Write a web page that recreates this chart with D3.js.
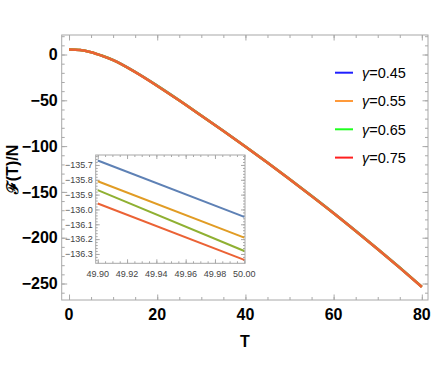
<!DOCTYPE html>
<html>
<head>
<meta charset="utf-8">
<script src="https://cdn.jsdelivr.net/npm/d3@7"></script>
<style>
  body { margin: 0; background: #fff; }
  svg { display: block; }
  .lbl { font-family: "Liberation Sans Narrow", "Liberation Sans", Arial, sans-serif; font-weight: bold; }
</style>
</head>
<body>
<div id="chartContainer"></div>
<script>
// Main curve, sampled along T
const temps = [0, 2.5, 5, 7.5, 10, 15, 20, 25, 30, 35, 40, 45, 50, 55, 60, 65, 70, 75, 80];
const free45 = [5.6, 5.0, 2.6, -1.3, -6.0, -19.0, -34.0, -50.0, -66.6, -83.3, -100.4, -117.9, -135.9, -154.3, -173.1, -192.5, -212.3, -232.6, -253.5];
const free55 = [5.5, 4.9, 2.5, -1.4, -6.1, -19.1, -34.1, -50.1, -66.7, -83.4, -100.5, -118.0, -136.0, -154.4, -173.2, -192.6, -212.4, -232.7, -253.6];
const free65 = [5.5, 4.9, 2.5, -1.4, -6.1, -19.1, -34.2, -50.2, -66.8, -83.5, -100.6, -118.1, -136.1, -154.5, -173.3, -192.7, -212.5, -232.8, -253.7];
const free75 = [5.4, 4.8, 2.4, -1.5, -6.2, -19.2, -34.3, -50.3, -66.9, -83.6, -100.7, -118.2, -136.2, -154.6, -173.4, -192.8, -212.6, -232.9, -253.8];

// Zoomed window near T = 50
const insetTemps = [49.90, 50.00];
const inset45 = [-135.67, -136.05];
const inset55 = [-135.81, -136.19];
const inset65 = [-135.87, -136.28];
const inset75 = [-135.96, -136.34];

const gammas = ["0.45", "0.55", "0.65", "0.75"];
const xTicks = [0, 20, 40, 60, 80];
const yTicks = [0, -50, -100, -150, -200, -250];
const insetXTicks = [49.90, 49.92, 49.94, 49.96, 49.98, 50.00];
const insetYTicks = [-135.7, -135.8, -135.9, -136.0, -136.1, -136.2, -136.3];

const plotColors = ["#5e81b5", "#e19c24", "#8fb032", "#eb6235"];
const legendColors = ["#1f1fff", "#ff9a3a", "#1fff1f", "#ff1f1f"];
const frameColor = "#a8a8a8";

const width = 436, height = 382;
const svg = d3.select("#chartContainer").append("svg")
  .attr("width", width)
  .attr("height", height);

svg.append("rect").attr("width", width).attr("height", height).attr("fill", "#fff");

// Scales for the main frame
const x = d3.scaleLinear().domain([-1.66, 81.4]).range([61.7, 428]);
const y = d3.scaleLinear().domain([21.3, -268]).range([35, 300]);

const [frameL, frameR] = x.range();
const [frameT, frameB] = y.range();

// frame ticks, drawn inward on all four sides
function frameTicks(g, scale, orient, values, size, offset) {
  const ax = orient(scale).tickValues(values).tickFormat("").tickSizeInner(-size).tickSizeOuter(0);
  g.append("g").attr("transform", offset).call(ax)
    .call(s => s.select(".domain").remove())
    .call(s => s.selectAll("line").attr("stroke", frameColor));
}

const xMinor = d3.range(0, 81, 5);
const yMinor = d3.range(20, -261, -10);

frameTicks(svg, x, d3.axisBottom, xMinor, 3, `translate(0,${frameB})`);
frameTicks(svg, x, d3.axisBottom, xTicks, 5.5, `translate(0,${frameB})`);
frameTicks(svg, x, d3.axisTop, xMinor, 3, `translate(0,${frameT})`);
frameTicks(svg, x, d3.axisTop, xTicks, 5.5, `translate(0,${frameT})`);
frameTicks(svg, y, d3.axisLeft, yMinor, 3, `translate(${frameL},0)`);
frameTicks(svg, y, d3.axisLeft, yTicks, 5.5, `translate(${frameL},0)`);
frameTicks(svg, y, d3.axisRight, yMinor, 3, `translate(${frameR},0)`);
frameTicks(svg, y, d3.axisRight, yTicks, 5.5, `translate(${frameR},0)`);

svg.append("rect")
  .attr("x", frameL).attr("y", frameT)
  .attr("width", frameR - frameL).attr("height", frameB - frameT)
  .attr("fill", "none").attr("stroke", frameColor).attr("stroke-width", 1);

// Tick labels
svg.append("g").selectAll("text")
  .data(xTicks).join("text")
  .attr("class", "lbl")
  .attr("x", d => x(d)).attr("y", frameB + 20)
  .attr("text-anchor", "middle")
  .attr("font-size", 16)
  .text(d3.format("d"));

svg.append("g").selectAll("text")
  .data(yTicks).join("text")
  .attr("class", "lbl")
  .attr("x", frameL - 4).attr("y", d => y(d))
  .attr("dy", "0.36em")
  .attr("text-anchor", "end")
  .attr("font-size", 16)
  .text(d3.format("d"));

svg.append("text")
  .attr("class", "lbl")
  .attr("x", (frameL + frameR) / 2).attr("y", 347)
  .attr("text-anchor", "middle")
  .attr("font-size", 16)
  .text("T");

svg.append("text")
  .attr("class", "lbl")
  .attr("transform", `translate(18,${(frameT + frameB) / 2 + 2}) rotate(-90)`)
  .attr("text-anchor", "middle")
  .attr("font-size", 16)
  .text("ℱ(T)/N");

// Main curves
const mainSeries = [free45, free55, free65, free75];
const line = d3.line()
  .x((d, i) => x(temps[i]))
  .y(d => y(d))
  .curve(d3.curveMonotoneX);

svg.append("g").selectAll("path")
  .data(mainSeries).join("path")
  .attr("d", line)
  .attr("fill", "none")
  .attr("stroke", (d, i) => plotColors[i])
  .attr("stroke-width", 2.5)
  .attr("stroke-linejoin", "round");

// Legend
const legend = svg.append("g").selectAll("g")
  .data(gammas).join("g")
  .attr("transform", (d, i) => `translate(335,${72.7 + i * 28.3})`);

legend.append("line")
  .attr("x1", 0).attr("x2", 18)
  .attr("stroke", (d, i) => legendColors[i])
  .attr("stroke-width", 2);

const legendText = legend.append("text")
  .attr("x", 27).attr("dy", "0.36em")
  .attr("font-family", "Liberation Sans, Arial, sans-serif")
  .attr("font-size", 14.5);
legendText.append("tspan").attr("font-style", "italic").text("γ");
legendText.append("tspan").text(d => "=" + d);

// Inset
const xi = d3.scaleLinear().domain([49.8986, 50.0005]).range([95.7, 245]);
const yi = d3.scaleLinear().domain([-135.633, -136.363]).range([155, 263.3]);
const [iLeft, iRight] = xi.range();
const [iTop, iBottom] = yi.range();

svg.append("rect")
  .attr("x", iLeft).attr("y", iTop)
  .attr("width", iRight - iLeft).attr("height", iBottom - iTop)
  .attr("fill", "#fff");

const ixMinor = d3.range(0, 21).map(k => 49.90 + k * 0.005);
const iyMinor = d3.range(0, 36).map(k => -135.64 - k * 0.02);

frameTicks(svg, xi, d3.axisBottom, ixMinor, 2, `translate(0,${iBottom})`);
frameTicks(svg, xi, d3.axisBottom, insetXTicks, 4, `translate(0,${iBottom})`);
frameTicks(svg, xi, d3.axisTop, ixMinor, 2, `translate(0,${iTop})`);
frameTicks(svg, xi, d3.axisTop, insetXTicks, 4, `translate(0,${iTop})`);
frameTicks(svg, yi, d3.axisLeft, iyMinor, 2, `translate(${iLeft},0)`);
frameTicks(svg, yi, d3.axisLeft, insetYTicks, 4, `translate(${iLeft},0)`);
frameTicks(svg, yi, d3.axisRight, iyMinor, 2, `translate(${iRight},0)`);
frameTicks(svg, yi, d3.axisRight, insetYTicks, 4, `translate(${iRight},0)`);

svg.append("rect")
  .attr("x", iLeft).attr("y", iTop)
  .attr("width", iRight - iLeft).attr("height", iBottom - iTop)
  .attr("fill", "none").attr("stroke", frameColor);

svg.append("g").selectAll("text")
  .data(insetXTicks).join("text")
  .attr("x", d => xi(d)).attr("y", iBottom + 14)
  .attr("text-anchor", "middle")
  .attr("font-family", "Liberation Sans, Arial, sans-serif")
  .attr("font-size", 9)
  .attr("fill", "#444")
  .text(d3.format(".2f"));

svg.append("g").selectAll("text")
  .data(insetYTicks).join("text")
  .attr("x", iLeft - 3).attr("y", d => yi(d))
  .attr("dy", "0.36em")
  .attr("text-anchor", "end")
  .attr("font-family", "Liberation Sans, Arial, sans-serif")
  .attr("font-size", 9)
  .attr("fill", "#444")
  .text(d3.format(".1f"));

const insetSeries = [inset45, inset55, inset65, inset75];
const insetLine = d3.line()
  .x((d, i) => xi(insetTemps[i]))
  .y(d => yi(d));

svg.append("g").selectAll("path")
  .data(insetSeries).join("path")
  .attr("d", insetLine)
  .attr("fill", "none")
  .attr("stroke", (d, i) => plotColors[i])
  .attr("stroke-width", 2);
</script>
</body>
</html>
